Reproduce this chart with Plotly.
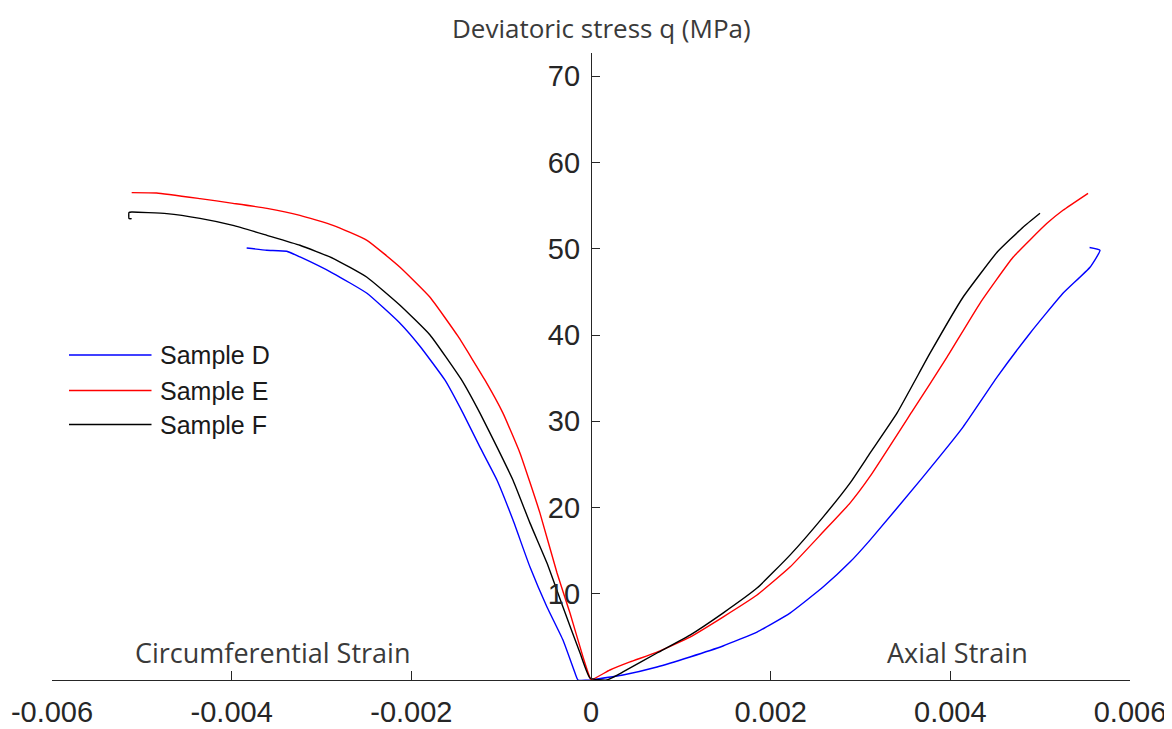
import plotly.graph_objects as go

# ---- data (strain, deviatoric stress q in MPa) ----
# circumferential branch (negative strain), ordered from failure end to origin
d_circ_strain = [-0.003833, -0.003610, -0.003387, -0.003239, -0.002872, -0.002494, -0.002126,
                 -0.001904, -0.001625, -0.001425, -0.001236, -0.001046, -0.000868, -0.000679,
                 -0.000490, -0.000312, -0.000178, -0.000145, 0.0]
d_circ_q = [50.09, 49.83, 49.71, 49.05, 47.16, 44.84, 41.37,
            38.70, 34.76, 30.94, 27.00, 23.17, 18.54, 13.09,
            8.46, 4.63, 0.81, 0.0, 0.0]
d_axial_strain = [0.0, 0.000356, 0.000735, 0.001102, 0.001469, 0.001848, 0.002215, 0.002583,
                  0.002883, 0.003106, 0.003685, 0.004141, 0.004520, 0.004887, 0.005254,
                  0.005555, 0.005666, 0.005550]
d_axial_q = [0.0, 0.58, 1.51, 2.67, 3.94, 5.56, 7.76, 10.78,
             13.67, 16.22, 23.41, 29.32, 35.11, 40.21, 44.84,
             47.86, 49.83, 50.15]

e_circ_strain = [-0.005113, -0.004835, -0.004353, -0.003985, -0.003607, -0.003240, -0.002872,
                 -0.002494, -0.002126, -0.001792, -0.001481, -0.001180, -0.000980,
                 -0.000790, -0.000568, -0.000378, -0.000234, -0.000089, -0.000011]
e_circ_q = [56.51, 56.47, 55.82, 55.27, 54.69, 53.88, 52.72,
            50.98, 47.86, 44.38, 39.86, 34.76, 30.94,
            26.30, 19.35, 12.40, 7.76, 2.67, 0.23]
e_axial_strain = [0.0, 0.000211, 0.000434, 0.000735, 0.001102, 0.001469, 0.001848, 0.002215,
                  0.002583, 0.002883, 0.003106, 0.003584, 0.003963, 0.004330, 0.004698,
                  0.005076, 0.005254, 0.005533]
e_axial_q = [0.0, 1.16, 2.09, 3.24, 4.98, 7.30, 9.85, 13.09,
             17.15, 20.51, 23.60, 31.29, 37.43, 43.68, 49.01,
             52.95, 54.46, 56.43]

f_circ_strain = [-0.005113, -0.005143, -0.005143, -0.005113, -0.004723, -0.004353, -0.003985,
                 -0.003607, -0.003240, -0.002872, -0.002494, -0.002126, -0.001792, -0.001439,
                 -0.001236, -0.001046, -0.000868, -0.000679, -0.000490, -0.000312, -0.000122,
                 -0.000011]
f_circ_q = [53.50, 53.50, 54.20, 54.26, 54.08, 53.53, 52.72,
            51.56, 50.41, 48.90, 46.70, 43.45, 40.00, 34.76,
            30.94, 27.00, 23.17, 18.19, 13.56, 8.46, 3.13,
            0.23]
f_axial_strain = [0.000178, 0.000356, 0.000735, 0.001102, 0.001469, 0.001848, 0.002215,
                  0.002583, 0.002883, 0.003106, 0.003406, 0.003774, 0.004141, 0.004520,
                  0.004809, 0.004998]
f_axial_q = [0.0, 0.93, 3.13, 5.21, 7.76, 10.66, 14.48,
             18.89, 22.83, 26.30, 30.94, 37.89, 44.38, 49.59,
             52.49, 54.11]

sample_names = ["Sample D", "Sample E", "Sample F"]
sample_colors = ["#0000FF", "#FF0000", "#000000"]

x_tick_vals = [-0.006, -0.004, -0.002, 0, 0.002, 0.004, 0.006]
x_tick_text = ["-0.006", "-0.004", "-0.002", "0", "0.002", "0.004", "0.006"]
y_tick_vals = [10, 20, 30, 40, 50, 60, 70]

series = [
    (d_circ_strain + d_axial_strain, d_circ_q + d_axial_q),
    (e_circ_strain + e_axial_strain, e_circ_q + e_axial_q),
    (f_circ_strain + f_axial_strain, f_circ_q + f_axial_q),
]

fig = go.Figure()
for (xs, ys), name, col in zip(series, sample_names, sample_colors):
    fig.add_trace(go.Scatter(x=xs, y=ys, mode="lines", name=name,
                             line=dict(color=col, width=1.4, shape="spline", smoothing=0.4),
                             showlegend=False))

# page body has an 8px margin; figure sized so the plot area lands at x 52..1130, y 53..680
W, H = 1164, 721
ML, MR, MT, MB = 44, 42, 45, 49
PW, PH = W - ML - MR, H - MT - MB
X0, Y1 = 52, 680  # screen position of plot-area left / bottom


def px(xp):
    return (xp - X0) / PW


def py(yp):
    return (Y1 - yp) / PH


axis_col = "#262626"
tick_font = dict(family="Liberation Sans, Arial", size=29, color=axis_col)
fig.update_layout(
    width=W, height=H,
    margin=dict(l=ML, r=MR, t=MT, b=MB, autoexpand=False),
    plot_bgcolor="white", paper_bgcolor="white",
    xaxis=dict(range=[-0.006, 0.006], tickvals=x_tick_vals, ticktext=x_tick_text,
               showline=True, linecolor=axis_col, linewidth=1.2,
               ticks="inside", ticklen=9, tickcolor=axis_col, tickwidth=1.2,
               showgrid=False, zeroline=False, ticklabelstandoff=6, automargin=False,
               tickfont=tick_font),
    yaxis=dict(range=[0, 72.7], tickvals=y_tick_vals,
               anchor="free", position=0.5,
               showline=True, linecolor=axis_col, linewidth=1.2,
               ticks="inside", ticklen=8, tickcolor=axis_col, tickwidth=1.2,
               showgrid=False, zeroline=False, ticklabelstandoff=5, automargin=False,
               tickfont=tick_font),
)

# legend drawn manually (long line samples as in the original)
legend_y = [355, 390.5, 424.5]
for name, col, ly in zip(sample_names, sample_colors, legend_y):
    fig.add_shape(type="line", xref="paper", yref="paper",
                  x0=px(69), x1=px(151.5), y0=py(ly), y1=py(ly),
                  line=dict(color=col, width=1.4))
    fig.add_annotation(text=name, xref="paper", yref="paper", x=px(158), y=py(ly),
                       xanchor="left", yanchor="middle", showarrow=False,
                       font=dict(family="Liberation Sans, Arial", size=25, color="#1a1a1a"))

label_font = dict(family="Open Sans", size=27, color="#3a3a3a")
fig.add_annotation(text="Deviatoric stress q (MPa)", xref="paper", yref="paper",
                   x=px(601), y=py(9), xanchor="center", yanchor="top",
                   showarrow=False, borderpad=0, font=dict(family="Open Sans", size=26, color="#3a3a3a"))
fig.add_annotation(text="Circumferential Strain", xref="paper", yref="paper",
                   x=px(272.5), y=py(652), xanchor="center", yanchor="middle",
                   showarrow=False, font=label_font)
fig.add_annotation(text="Axial Strain", xref="paper", yref="paper",
                   x=px(957.5), y=py(652), xanchor="center", yanchor="middle",
                   showarrow=False, font=label_font)

fig.write_html("out.html")
